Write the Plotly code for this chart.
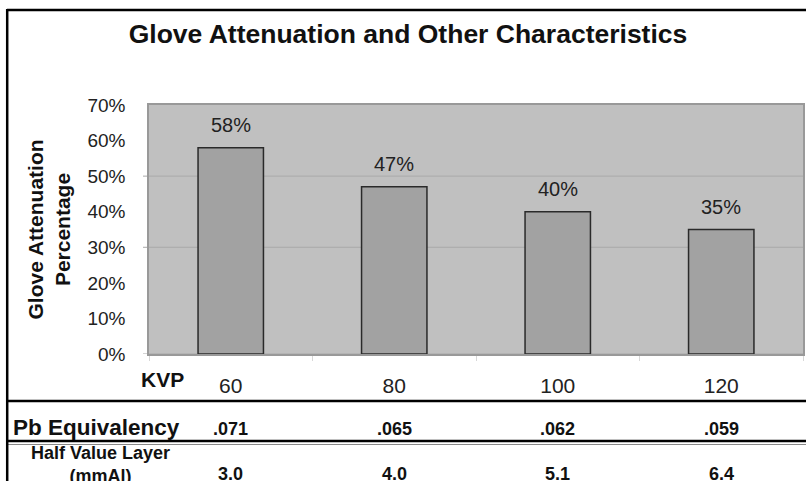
import plotly.graph_objects as go

# ---- data ----
kvp = ["60", "80", "100", "120"]
attenuation = [0.58, 0.47, 0.40, 0.35]
attenuation_labels = ["58%", "47%", "40%", "35%"]
pb_equivalency = [".071", ".065", ".062", ".059"]
half_value_layer = ["3.0", "4.0", "5.1", "6.4"]
y_ticks = [0, 0.1, 0.2, 0.3, 0.4, 0.5, 0.6, 0.7]
grid_values = [0, 0.3, 0.5]

# page body margin is removed by post_script; pixel positions are screen pixels
W, H = 806, 481
PL, PR, PT, PB = 149, 803, 105, 354  # plot area in screen pixels
L, R, T, B = PL, W - PR, PT, H - PB
PW, PH = W - L - R, H - T - B
FONT = "Liberation Sans, Arial, sans-serif"


def px_x(px):
    return (px - L) / PW


def px_y(py):
    return (H - B - py) / PH


fig = go.Figure()
fig.add_trace(go.Bar(
    x=kvp, y=attenuation,
    marker=dict(color="#a2a2a2", line=dict(color="#2a2a2a", width=1.5)),
    hoverinfo="skip",
))

shapes = []
for g in grid_values:
    shapes.append(dict(type="line", xref="paper", yref="y", x0=px_x(143), x1=1,
                       y0=g, y1=g, line=dict(color="#a9a9a9", width=1), layer="below"))
# table lines
for yy in (401, 441):
    shapes.append(dict(type="line", xref="paper", yref="paper", x0=px_x(7), x1=px_x(815),
                       y0=px_y(yy), y1=px_y(yy), line=dict(color="#000", width=2.5)))
shapes.append(dict(type="line", xref="paper", yref="paper", x0=px_x(7), x1=px_x(815),
                   y0=px_y(444.5), y1=px_y(444.5), line=dict(color="#888", width=1)))
# outer frame
shapes.append(dict(type="line", xref="paper", yref="paper", x0=px_x(7), x1=px_x(815),
                   y0=px_y(10), y1=px_y(10), line=dict(color="#000", width=2.5)))
shapes.append(dict(type="line", xref="paper", yref="paper", x0=px_x(7.2), x1=px_x(7.2),
                   y0=px_y(9), y1=px_y(490), line=dict(color="#000", width=2.5)))

annotations = []
for i, (v, lab) in enumerate(zip(attenuation, attenuation_labels)):
    annotations.append(dict(x=i, y=v, xref="x", yref="y", text=lab, showarrow=False,
                            xanchor="center", yanchor="bottom", yshift=10,
                            font=dict(family=FONT, size=20, color="#222")))
annotations.append(dict(x=px_x(48), y=0.5, xref="paper", yref="paper",
                        xanchor="center", yanchor="middle",
                        text="<b>Glove Attenuation<br>Percentage</b>", textangle=-90,
                        showarrow=False, font=dict(family=FONT, size=21, color="#111")))
annotations.append(dict(x=px_x(186), y=px_y(379), xref="paper", yref="paper",
                        text="<b>KVP</b>", xanchor="right", yanchor="middle", showarrow=False,
                        font=dict(family=FONT, size=21, color="#111")))
annotations.append(dict(x=px_x(11), y=px_y(427), xref="paper", yref="paper",
                        text="<b>Pb Equivalency</b>", xanchor="left", yanchor="middle",
                        showarrow=False, font=dict(family=FONT, size=22.5, color="#111")))
annotations.append(dict(x=px_x(100), y=px_y(464), xref="paper", yref="paper",
                        text="<b>Half Value Layer<br>(mmAl)</b>", xanchor="center",
                        yanchor="middle", showarrow=False,
                        font=dict(family=FONT, size=18, color="#111")))
for i, (pb, hvl) in enumerate(zip(pb_equivalency, half_value_layer)):
    annotations.append(dict(x=i, y=px_y(429), xref="x", yref="paper", text="<b>" + pb + "</b>",
                            xanchor="center", yanchor="middle", showarrow=False,
                            font=dict(family=FONT, size=18, color="#111")))
    annotations.append(dict(x=i, y=px_y(474), xref="x", yref="paper", text="<b>" + hvl + "</b>",
                            xanchor="center", yanchor="middle", showarrow=False,
                            font=dict(family=FONT, size=18, color="#111")))

fig.update_layout(
    width=W, height=H,
    margin=dict(l=L, r=R, t=T, b=B, autoexpand=False),
    paper_bgcolor="white", plot_bgcolor="#c0c0c0",
    bargap=0.6, showlegend=False,
    title=dict(text="<b>Glove Attenuation and Other Characteristics</b>",
               x=408 / W, xanchor="center", y=1 - 34 / H, yanchor="middle",
               font=dict(family=FONT, size=26.5, color="#111")),
    shapes=shapes, annotations=annotations,
    xaxis=dict(type="category", range=[-0.5, 3.5], showgrid=False, showline=True, mirror=True,
               linecolor="#999", linewidth=1.5, ticks="outside", tickson="boundaries",
               ticklen=5, tickcolor="#d8d8d8", ticklabelstandoff=12,
               tickfont=dict(family=FONT, size=21, color="#222")),
    yaxis=dict(range=[0, 0.7], tickvals=y_ticks, tickformat=".0%", showgrid=False,
               zeroline=False, showline=True, mirror=True, linecolor="#999", linewidth=1.5,
               ticks="outside", ticklen=6, tickcolor="rgba(0,0,0,0)", ticklabelstandoff=12,
               tickfont=dict(family=FONT, size=19, color="#222")),
)

fig.write_html("out.html",
               config={"displayModeBar": False},
               post_script="document.body.style.margin='0';document.body.style.overflow='hidden';")
